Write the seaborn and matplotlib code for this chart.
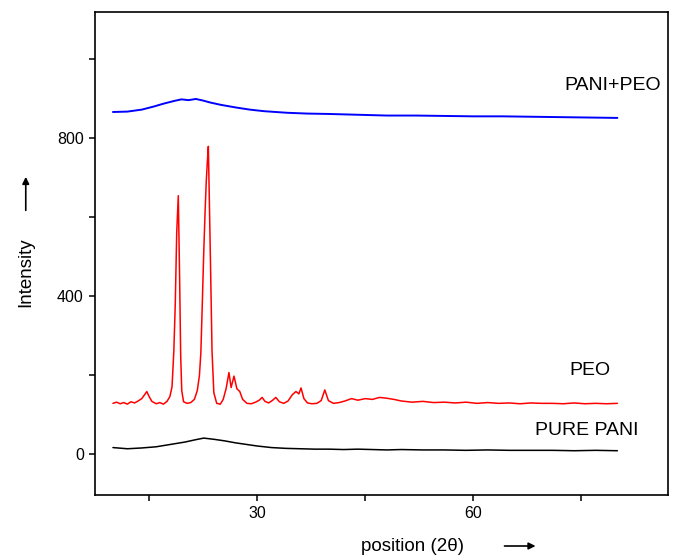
import pandas as pd
import seaborn as sns
import matplotlib.pyplot as plt

#%% data (2 theta, intensity)
theta_peo = [10.0, 10.5, 11.0, 11.5, 12.0, 12.5, 13.0, 13.5, 14.0, 14.4,
             14.7, 15.0, 15.4, 16.0, 16.5, 17.0, 17.5, 17.9, 18.2, 18.45,
             18.65, 18.85, 19.07, 19.25, 19.4, 19.55, 19.8, 20.3, 20.8, 21.3,
             21.7, 22.0, 22.2, 22.4, 22.6, 22.8, 22.95, 23.1, 23.24, 23.4,
             23.55, 23.75, 24.0, 24.4, 24.9, 25.3, 25.7, 26.1, 26.4, 26.8,
             27.2, 27.6, 28.0, 28.6, 29.2, 29.8, 30.3, 30.7, 31.1, 31.6,
             32.1, 32.6, 33.1, 33.7, 34.3, 34.9, 35.4, 35.8, 36.1, 36.5,
             37.0, 37.6, 38.3, 38.9, 39.4, 39.9, 40.6, 41.4, 42.2, 43.1,
             44.0, 45.0, 46.0, 47.0, 48.0, 49.0, 50.0, 51.5, 53.0, 54.5,
             56.0, 57.5, 59.0, 60.5, 62.0, 63.5, 65.0, 66.5, 68.0, 69.5,
             71.0, 72.5, 74.0, 75.5, 77.0, 78.5, 80.0]
int_peo = [128, 131, 127, 130, 126, 132, 129, 134, 140, 150,
           158, 146, 133, 127, 130, 126, 133, 145, 170, 260,
           380, 560, 654, 450, 250, 160, 132, 128, 130, 138,
           160, 198, 256, 380, 510, 620, 690, 740, 779, 620,
           470, 260, 155, 128, 126, 138, 165, 206, 168, 197,
           165, 158, 138, 128, 127, 131, 136, 143, 133, 129,
           135, 143, 132, 128, 134, 150, 158, 152, 167, 140,
           129, 127, 128, 135, 162, 135, 128, 130, 134, 140,
           136, 140, 138, 143, 141, 138, 134, 131, 133, 130,
           131, 129, 131, 128, 130, 128, 129, 127, 129, 128,
           128, 127, 129, 127, 128, 127, 128]

theta_pani = [10, 12, 14, 16, 18, 20, 21.5, 22.6, 24, 25.5,
              27, 28.5, 30, 32, 34, 36, 38, 40, 42, 44,
              46, 48, 50, 53, 56, 59, 62, 65, 68, 71,
              74, 77, 80]
int_pani = [16, 13, 15, 18, 24, 30, 36, 40, 37, 33,
            28, 24, 20, 16, 14, 13, 12, 12, 11, 12,
            11, 10, 11, 10, 10, 9, 10, 9, 9, 9,
            8, 9, 8]

theta_blend = [10, 12, 14, 15.7, 17, 18.5, 19.5, 20.5, 21.5, 22.5,
               23.5, 25, 27.2, 29, 31, 34.2, 37, 40, 44, 48,
               52, 56, 60, 64, 68, 72, 76, 80]
int_blend = [866, 867, 872, 880, 887, 894, 898, 896, 899, 895,
             890, 884, 877, 872, 868, 864, 862, 861, 859, 857,
             857, 856, 855, 855, 854, 853, 852, 851]

labels = ['PANI+PEO', 'PEO', 'PURE PANI']

#%% plot
sns.set_style('ticks')
plt.rcParams['font.family'] = ['Liberation Sans', 'DejaVu Sans']
plt.rcParams['text.color'] = 'black'

fig = plt.figure(figsize = (6.78, 5.58), dpi = 100)
ax = fig.add_axes([0.140, 0.113, 0.845, 0.866])

sns.lineplot(x = theta_pani, y = int_pani, color = 'black', linewidth = 1.1,
             estimator = None, sort = False, ax = ax)
sns.lineplot(x = theta_peo, y = int_peo, color = '#ff0000', linewidth = 1.1,
             estimator = None, sort = False, ax = ax)
sns.lineplot(x = theta_blend, y = int_blend, color = '#0000ff', linewidth = 1.4,
             estimator = None, sort = False, ax = ax)

ax.text(72.6, 933, labels[0], fontsize = 14, va = 'center', ha = 'left')
ax.text(73.3, 211, labels[1], fontsize = 14, va = 'center', ha = 'left')
ax.text(68.5, 59, labels[2], fontsize = 14, va = 'center', ha = 'left')

ax.set_xlim(7.5, 87)
ax.set_ylim(-104, 1120)
ax.set_xticks([30, 60])
ax.set_xticks([15, 45, 75], minor = True)
ax.set_yticks([0, 400, 800])
ax.set_yticks([200, 600, 1000], minor = True)
ax.tick_params(which = 'both', direction = 'out', length = 4, width = 1.1,
               labelsize = 11.5, pad = 4, colors = 'black')
for s in ax.spines.values():
    s.set_linewidth(1.2)
    s.set_color('black')
ax.set_xlabel('')
ax.set_ylabel('')

# axis titles with little arrows, as in the figure
fig.text(0.038, 0.5125, 'Intensity', rotation = 90, fontsize = 13.5,
         ha = 'center', va = 'center')
ax.annotate('', xy = (0.038, 0.688), xytext = (0.038, 0.618),
            xycoords = 'figure fraction', textcoords = 'figure fraction',
            arrowprops = dict(arrowstyle = '-|>', color = 'black', lw = 1.2,
                              mutation_scale = 10))
fig.text(0.609, 0.0215, 'position (2θ)', fontsize = 13.5,
         ha = 'center', va = 'center')
ax.annotate('', xy = (0.794, 0.0215), xytext = (0.740, 0.0215),
            xycoords = 'figure fraction', textcoords = 'figure fraction',
            arrowprops = dict(arrowstyle = '-|>', color = 'black', lw = 1.2,
                              mutation_scale = 10))

fig.savefig('out.png', dpi = 100)
